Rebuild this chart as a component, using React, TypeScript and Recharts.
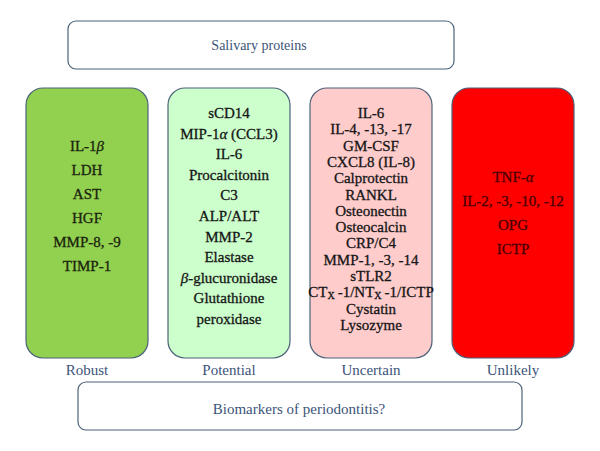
import React from 'react';
import { BarChart, Bar, XAxis, YAxis, Customized } from 'recharts';

const categories = ['Robust', 'Potential', 'Uncertain', 'Unlikely'];
const boxValues = [1, 1, 1, 1];
const robustItems = ['IL-1β', 'LDH', 'AST', 'HGF', 'MMP-8, -9', 'TIMP-1'];
const potentialItems = ['sCD14', 'MIP-1α (CCL3)', 'IL-6', 'Procalcitonin', 'C3', 'ALP/ALT', 'MMP-2', 'Elastase', 'β-glucuronidase', 'Glutathione', 'peroxidase'];
const uncertainItems = ['IL-6', 'IL-4, -13, -17', 'GM-CSF', 'CXCL8 (IL-8)', 'Calprotectin', 'RANKL', 'Osteonectin', 'Osteocalcin', 'CRP/C4', 'MMP-1, -3, -14', 'sTLR2', 'CT_X-1/NT_X-1/ICTP', 'Cystatin', 'Lysozyme'];
const unlikelyItems = ['TNF-α', 'IL-2, -3, -10, -12', 'OPG', 'ICTP'];
const topTitle = 'Salivary proteins';
const bottomTitle = 'Biomarkers of periodontitis?';

const itemLists = [robustItems, potentialItems, uncertainItems, unlikelyItems];
const data = categories.map((name, i) => ({ name, value: boxValues[i], items: itemLists[i] }));

const FILLS = ['#92d050', '#ccffcc', '#ffcccc', '#ff0000'];
const TEXT_COLORS = ['#1a240c', '#161616', '#161616', '#4a0000'];
const LINE_GAP = [24, 20.6, 16.3, 24];
const FIRST_LINE = [58, 25, 25, 89];
const BORDER = '#4b6178';
const TITLE_COLOR = '#3b5478';
const FONT = "'Liberation Serif', 'DejaVu Serif', serif";
const fontStyle = (size: number) => ({ fontFamily: FONT, fontSize: size });

function renderItem(text: string) {
  const parts = text.split(/(β|α|_X)/).filter((p) => p !== '');
  return parts.map((p, i) => {
    if (p === 'β' || p === 'α') return <tspan key={i} style={{ fontStyle: 'italic' }}>{p}</tspan>;
    if (p === '_X') return <tspan key={i} style={{ fontSize: 10 }} dy={3}>X</tspan>;
    const prevSub = i > 0 && parts[i - 1] === '_X';
    return <tspan key={i} dy={prevSub ? -3 : undefined}>{prevSub ? '\u2009' + p : p}</tspan>;
  });
}

const BoxShape = (props: any) => {
  const { x, y, width, height, index, payload } = props;
  const items: string[] = payload.items;
  const cx = x + width / 2;
  return (
    <g>
      <rect x={x} y={y} width={width} height={height} rx={17} ry={17} fill={FILLS[index]} stroke={BORDER} strokeWidth={1.2} />
      {items.map((t, i) => (
        <text key={i} x={cx} y={y + FIRST_LINE[index] + i * LINE_GAP[index]} textAnchor="middle" dominantBaseline="central"
          style={fontStyle(15)} fill={TEXT_COLORS[index]} stroke={TEXT_COLORS[index]} strokeWidth={0.3}>
          {renderItem(t)}
        </text>
      ))}
    </g>
  );
};

const CategoryTick = (props: any) => {
  const { x, y, payload } = props;
  return (
    <text x={x} y={y + 17} textAnchor="middle" style={fontStyle(15)} fill={TITLE_COLOR}>
      {payload.value}
    </text>
  );
};

const Frames = () => (
  <g>
    <rect x={68} y={21} width={386} height={48} rx={8} ry={8} fill="#ffffff" stroke={BORDER} strokeWidth={1.2} />
    <text x={259} y={45} textAnchor="middle" dominantBaseline="central" style={fontStyle(14)} fill={TITLE_COLOR}>{topTitle}</text>
    <rect x={78} y={382} width={444} height={48} rx={8} ry={8} fill="#ffffff" stroke={BORDER} strokeWidth={1.2} />
    <text x={299} y={409} textAnchor="middle" dominantBaseline="central" style={fontStyle(15)} fill={TITLE_COLOR}>{bottomTitle}</text>
  </g>
);

export default function App() {
  return (
    <div style={{ position: 'absolute', left: 0, top: 0, width: 600, height: 451, background: '#ffffff', fontFamily: FONT }}>
      <BarChart width={600} height={451} data={data} margin={{ top: 88, right: 16, left: 16, bottom: 63 }} barCategoryGap={10}>
        <XAxis dataKey="name" height={30} axisLine={false} tickLine={false} tickSize={0} tickMargin={0} tick={<CategoryTick />} interval={0} />
        <YAxis hide domain={[0, 1]} />
        <Bar dataKey="value" isAnimationActive={false} shape={<BoxShape />} />
        <Customized component={<Frames />} />
      </BarChart>
    </div>
  );
}
